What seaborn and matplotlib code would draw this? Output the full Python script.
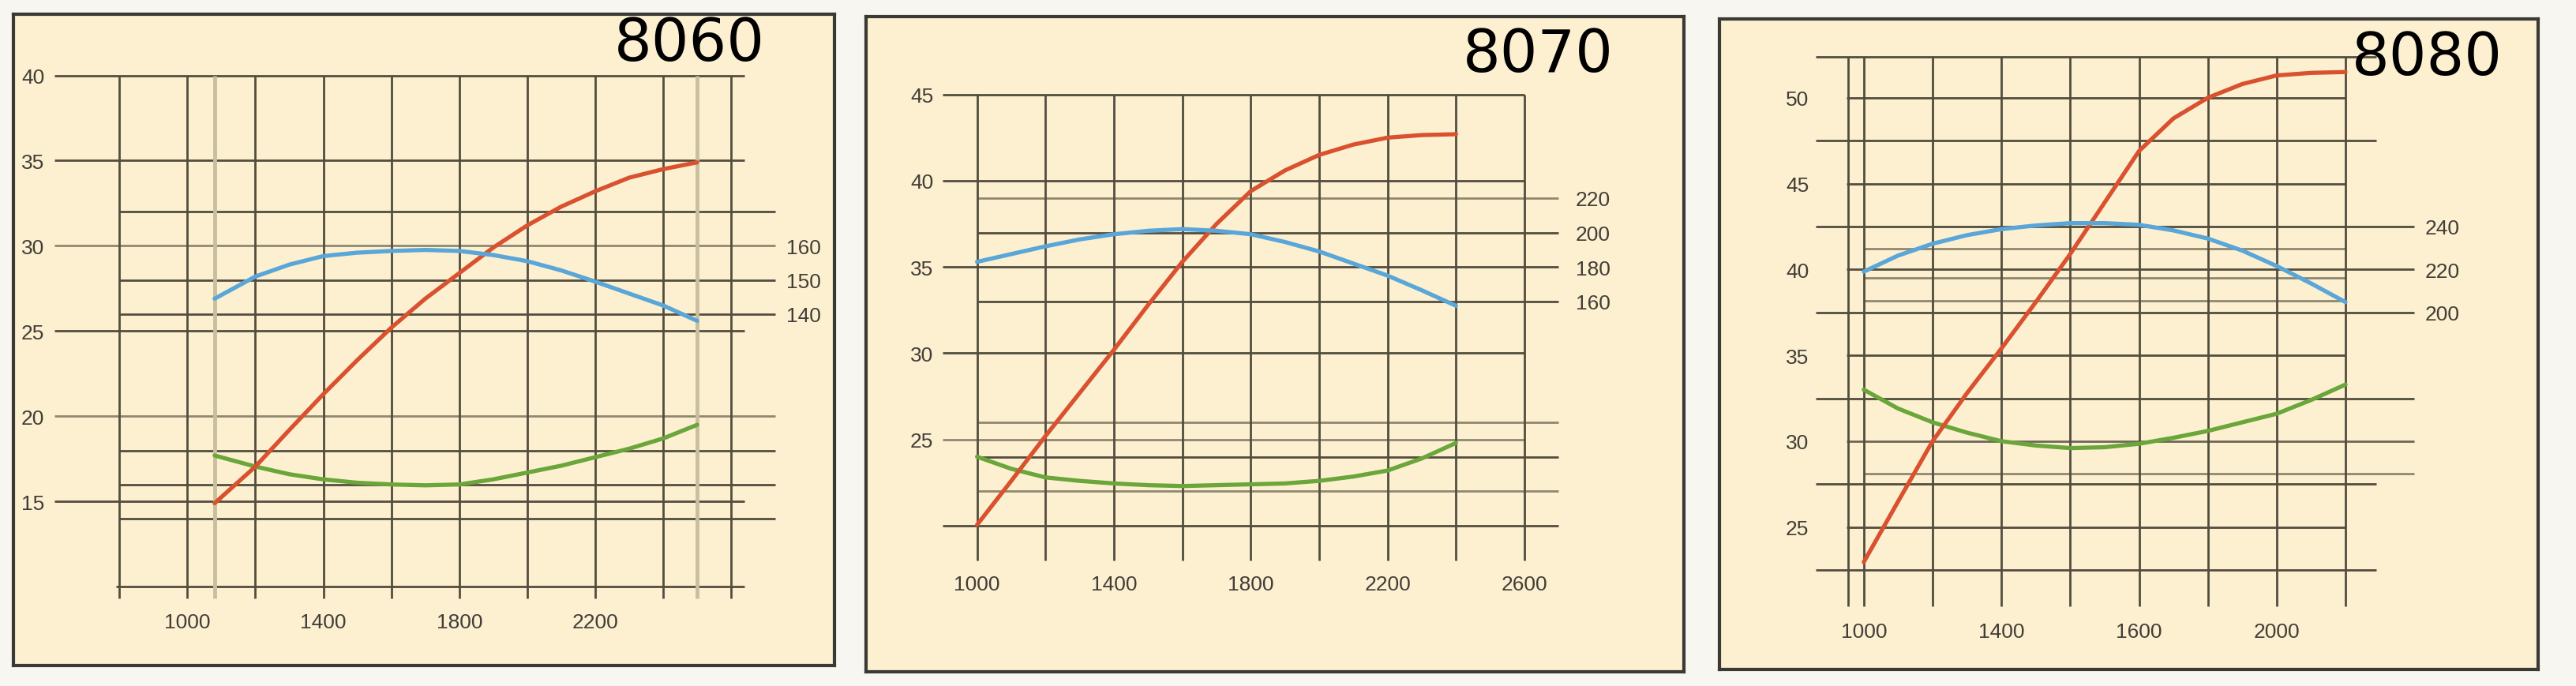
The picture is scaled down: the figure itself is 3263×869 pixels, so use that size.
import matplotlib
matplotlib.use("Agg")
import matplotlib.pyplot as plt
import seaborn as sns

W, H, DPI = 3263, 870, 100

# ---- 8060 ----
rpm_8060 = [1080, 1200, 1300, 1400, 1500, 1600, 1700, 1800, 1900, 2000, 2100, 2200, 2300, 2400, 2500]
power_8060 = [14.9, 17.05, 19.2, 21.3, 23.3, 25.2, 26.9, 28.4, 29.9, 31.2, 32.3, 33.2, 34.0, 34.5, 34.9]
torque_8060 = [144.5, 151, 154.5, 157, 158, 158.5, 158.8, 158.5, 157.3, 155.5, 152.8, 149.5, 146, 142.5, 138]
fuel_8060 = [17.7, 17.05, 16.6, 16.3, 16.1, 16.0, 15.95, 16.0, 16.3, 16.7, 17.1, 17.6, 18.1, 18.7, 19.5]

# ---- 8070 ----
rpm_8070 = [1000, 1100, 1200, 1300, 1400, 1500, 1600, 1700, 1800, 1900, 2000, 2100, 2200, 2300, 2400]
power_8070 = [20.05, 22.6, 25.2, 27.7, 30.2, 32.8, 35.3, 37.5, 39.4, 40.6, 41.5, 42.1, 42.5, 42.65, 42.7]
torque_8070 = [183, 187.5, 192, 196, 199, 201, 202, 201, 199, 194.5, 189, 182, 175, 166.5, 157.5]
fuel_8070 = [24.0, 23.3, 22.8, 22.6, 22.45, 22.35, 22.3, 22.35, 22.4, 22.45, 22.6, 22.85, 23.2, 23.9, 24.8]

# ---- 8080 ----
rpm_8080 = [1000, 1100, 1200, 1300, 1400, 1500, 1600, 1700, 1800, 1900, 2000, 2100, 2200, 2300, 2400]
power_8080 = [22.96, 26.5, 30.0, 32.8, 35.4, 38.1, 40.9, 43.9, 46.9, 48.8, 50.0, 50.8, 51.3, 51.45, 51.5]
torque_8080 = [219, 226.5, 232, 236, 238.8, 240.5, 241.6, 241.6, 240.8, 238.2, 234.4, 228.8, 221.6, 213.5, 204.8]
fuel_8080 = [33.0, 31.9, 31.1, 30.5, 30.0, 29.75, 29.6, 29.65, 29.85, 30.2, 30.6, 31.1, 31.6, 32.4, 33.3]

# tick values and labels
yticks_8060 = [15, 20, 25, 30, 35, 40]
rticks_8060 = [140, 150, 160]
xticks_8060 = [1000, 1400, 1800, 2200]
xlabels_8060 = ["1000", "1400", "1800", "2200"]

yticks_8070 = [25, 30, 35, 40, 45]
rticks_8070 = [160, 180, 200, 220]
xticks_8070 = [1000, 1400, 1800, 2200, 2600]
xlabels_8070 = ["1000", "1400", "1800", "2200", "2600"]

yticks_8080 = [25, 30, 35, 40, 45, 50]
rticks_8080 = [200, 220, 240]
xticks_8080 = [1000, 1400, 1800, 2200]
xlabels_8080 = ["1000", "1400", "1600", "2000"]

# printed grid of each chart
vgrid_8060 = [800, 1000, 1200, 1400, 1600, 1800, 2000, 2200, 2400, 2600]
vgrid_8070 = [1000, 1200, 1400, 1600, 1800, 2000, 2200, 2400, 2600]
vgrid_8080 = [955, 1000, 1200, 1400, 1600, 1800, 2000, 2200, 2400]

CREAM = "#fcf0d1"
FRAME = "#3b3934"
GRID = "#524d3d"
GRID_LIGHT = "#8f8870"
TXT = "#423e37"
RED = "#d9512f"
BLUE = "#5aa6d8"
GREEN = "#6aa63a"

panels = [
    dict(title="8060", frame=(17, 19, 1057, 844), xlim=(488, 2904), ylim=(5.38, 43.59),
         rpm=rpm_8060, power=power_8060, torque=torque_8060, fuel=fuel_8060,
         yticks=yticks_8060, rticks=rticks_8060, xticks=xticks_8060, xlabels=xlabels_8060,
         rscale=(5, 10), vgrid=vgrid_8060, vspan=(9.3, 40), end_lines=True,
         hgrid=[([40, 35, 25, 15], 608, 2640, GRID), ([30, 20], 608, 2730, GRID_LIGHT),
                ([32, 28, 26, 18, 16, 14], 800, 2730, GRID), ([10], 790, 2640, GRID)],
         pads=(10, 17, 55), title_xy=(873, 57)),
    dict(title="8070", frame=(1097, 22, 2133, 852), xlim=(675.5, 3066), ylim=(11.53, 49.52),
         rpm=rpm_8070, power=power_8070, torque=torque_8070, fuel=fuel_8070,
         yticks=yticks_8070, rticks=rticks_8070, xticks=xticks_8070, xlabels=xlabels_8070,
         rscale=(10, -170), vgrid=vgrid_8070, vspan=(18.0, 45), end_lines=False,
         hgrid=[([45, 40, 30], 900, 2600, GRID), ([25], 900, 2600, GRID_LIGHT),
                ([35, 20], 900, 2700, GRID), ([39, 26, 22], 1000, 2700, GRID_LIGHT),
                ([37, 33, 24], 1000, 2700, GRID)],
         pads=(56, 93, 111), title_xy=(1948, 70)),
    dict(title="8080", frame=(2178, 25, 3215, 849), xlim=(580.6, 2959.7), ylim=(16.71, 54.59),
         rpm=rpm_8080, power=power_8080, torque=torque_8080, fuel=fuel_8080,
         yticks=yticks_8080, rticks=rticks_8080, xticks=xticks_8080, xlabels=xlabels_8080,
         rscale=(8, -100), vgrid=vgrid_8080, vspan=(20.4, 52.4), end_lines=False,
         hgrid=[([50, 45, 35, 25], 950, 2400, GRID), ([40], 950, 2600, GRID),
                ([30], 950, 2600, "#6e6856"),
                ([52.4, 47.5, 27.5, 22.5], 860, 2490, GRID), ([42.5, 37.5, 32.5], 860, 2600, GRID),
                ([41.2, 39.5, 38.2], 1000, 2400, GRID_LIGHT), ([28.1], 1000, 2600, GRID_LIGHT)],
         pads=(84, 99, 48), title_xy=(3074, 74)),
]


def pt(px):
    return px * 72.0 / DPI


def draw_panel(fig, p):
    l, t, r, b = p["frame"]
    ax = fig.add_axes([l / W, 1 - b / H, (r - l) / W, (b - t) / H])
    ax.set_facecolor(CREAM)
    for s in ax.spines.values():
        s.set_visible(True)
        s.set_color(FRAME)
        s.set_linewidth(3.0)

    # grid
    for ys, x0, x1, c in p["hgrid"]:
        ax.hlines(ys, x0, x1, color=c, lw=2.0, zorder=1)
    ax.vlines(p["vgrid"], p["vspan"][0], p["vspan"][1], color=GRID, lw=2.0, zorder=1)
    if p["end_lines"]:
        # pale rules at the first and last speed of the curves
        ax.vlines([p["rpm"][0], p["rpm"][-1]], p["vspan"][0], p["vspan"][1],
                  color="#c8bf9f", lw=3.5, zorder=1)

    # curves on the left scale
    sns.lineplot(x=p["rpm"], y=p["fuel"], ax=ax, color=GREEN, lw=3.8, zorder=3)
    sns.lineplot(x=p["rpm"], y=p["power"], ax=ax, color=RED, lw=3.8, zorder=4)
    ax.set_xlim(*p["xlim"])
    ax.set_ylim(*p["ylim"])
    ax.set_xlabel("")
    ax.set_ylabel("")

    ax.set_yticks(p["yticks"], [str(v) for v in p["yticks"]])
    ax.tick_params(axis="y", length=0, pad=-pt(p["pads"][0]), labelsize=19, labelcolor=TXT)
    for lab in ax.get_yticklabels():
        lab.set_horizontalalignment("left")
    ax.set_xticks(p["xticks"], p["xlabels"])
    ax.tick_params(axis="x", length=0, pad=-pt(p["pads"][2]), labelsize=19, labelcolor=TXT)
    for lab in ax.get_xticklabels():
        lab.set_verticalalignment("center")

    # torque on its own right-hand scale
    a, c = p["rscale"]
    tw = ax.twinx()
    tw.set_facecolor("none")
    sns.lineplot(x=p["rpm"], y=p["torque"], ax=tw, color=BLUE, lw=3.8, zorder=3)
    tw.set_ylim(a * p["ylim"][0] + c, a * p["ylim"][1] + c)
    tw.set_xlim(*p["xlim"])
    tw.set_ylabel("")
    for s in tw.spines.values():
        s.set_visible(False)
    tw.set_yticks(p["rticks"], [str(v) for v in p["rticks"]])
    tw.tick_params(axis="y", length=0, pad=-pt(p["pads"][1]), labelsize=19, labelcolor=TXT)
    for lab in tw.get_yticklabels():
        lab.set_horizontalalignment("right")

    fig.text(p["title_xy"][0] / W, 1 - p["title_xy"][1] / H, p["title"],
             ha="center", va="center", fontsize=54, color="black",
             family=["DejaVu Sans"])


def main():
    sns.set_theme(style="white")
    plt.rcParams["font.family"] = ["Liberation Sans", "DejaVu Sans"]
    fig = plt.figure(figsize=(W / DPI, H / DPI), dpi=DPI)
    fig.patch.set_facecolor("#f7f6f1")
    for p in panels:
        draw_panel(fig, p)
    fig.savefig("out.png", dpi=DPI)
    plt.close(fig)


if __name__ == "__main__":
    main()
